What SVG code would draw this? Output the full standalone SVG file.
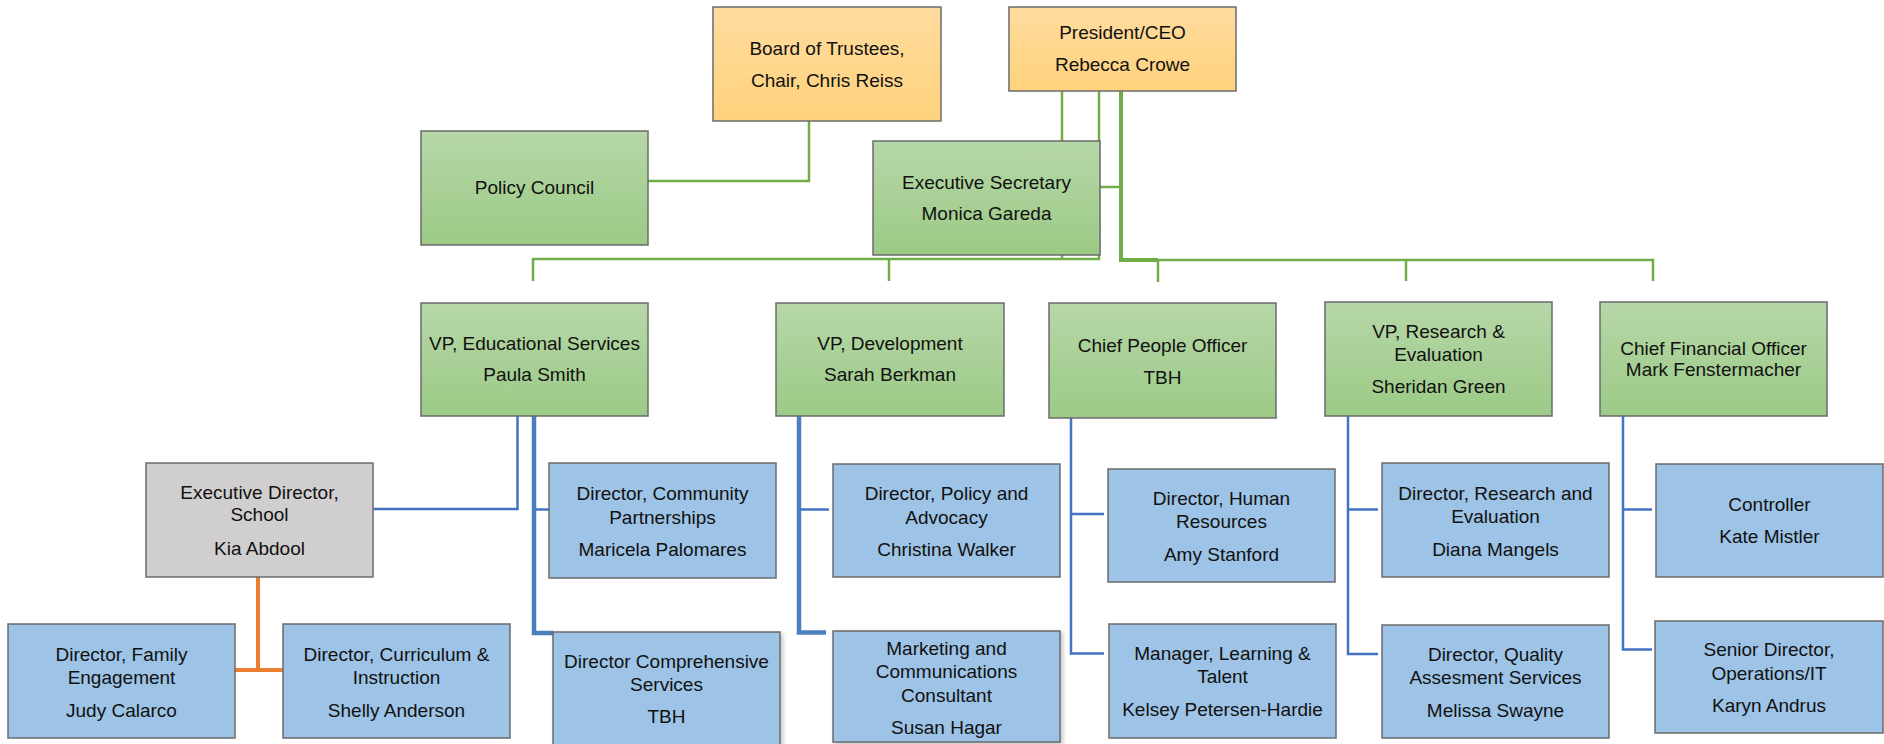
<svg xmlns="http://www.w3.org/2000/svg" width="1884" height="744" viewBox="0 0 1884 744">
  <defs>
    <linearGradient id="gGreen" x1="0" y1="0" x2="0" y2="1">
      <stop offset="0" stop-color="#b6d7a8"/>
      <stop offset="1" stop-color="#9cca86"/>
    </linearGradient>
    <linearGradient id="gGold" x1="0" y1="0" x2="0" y2="1">
      <stop offset="0" stop-color="#ffdb9f"/>
      <stop offset="1" stop-color="#ffd37c"/>
    </linearGradient>
    <filter id="soft" x="-5%" y="-5%" width="115%" height="115%">
      <feDropShadow dx="2" dy="2" stdDeviation="2" flood-color="#000" flood-opacity="0.25"/>
    </filter>
    <style>
      .box { stroke: #6b6b6b; stroke-width: 1.5; }
      .green { fill: url(#gGreen); }
      .gold { fill: url(#gGold); }
      .blue { fill: #9dc3e6; }
      .grey { fill: #d0cece; }
      .lbl { font-family: "Liberation Sans", Arial, sans-serif; font-size: 19px; fill: #111; text-anchor: middle; }
      .gl { fill: none; stroke: #70ad47; stroke-width: 2.5; }
      .glt { fill: none; stroke: #70ad47; stroke-width: 4; }
      .bl { fill: none; stroke: #4472c4; stroke-width: 2.5; }
      .blt { fill: none; stroke: #4a7ebf; stroke-width: 4.5; }
      .ol { fill: none; stroke: #ed7d31; stroke-width: 4; }
    </style>
  </defs>

  <rect width="1884" height="744" fill="#ffffff"/>

  <!-- reporting lines -->
  <g id="connectors">
    <path class="gl" d="M809,121 V181 H648"/>
    <path class="gl" d="M1062,91 V259"/>
    <path class="gl" d="M1099,91 V259 H533 V281"/>
    <path class="gl" d="M889,259 V281"/>
    <path class="glt" d="M1121,91 V260 H1158"/>
    <path class="gl" d="M1158,260 H1653 V281"/>
    <path class="gl" d="M1158,260 V282"/>
    <path class="gl" d="M1406,260 V281"/>
    <path class="gl" d="M1100,187 H1121"/>

    <path class="bl" d="M517.5,416 V509 H373"/>
    <path class="blt" d="M534,416 V633 H553"/>
    <path class="bl" d="M534,509.5 H549"/>

    <path class="blt" d="M799,416 V632.5 H826"/>
    <path class="bl" d="M799,509.5 H829"/>

    <path class="bl" d="M1071,418 V653.5 H1104"/>
    <path class="bl" d="M1071,514 H1104"/>

    <path class="bl" d="M1348,416 V654 H1378"/>
    <path class="bl" d="M1348,509.5 H1378"/>

    <path class="bl" d="M1623,416 V649.5 H1652"/>
    <path class="bl" d="M1623,509.5 H1652"/>

    <path class="ol" d="M258,577 V670"/>
    <path class="ol" d="M235,670 H283"/>
  </g>

  <!-- governance and executive office -->
  <g id="board">
    <rect class="box gold" x="713" y="7" width="228" height="114"/>
    <text class="lbl" x="827" y="55">Board of Trustees,</text>
    <text class="lbl" x="827" y="87">Chair, Chris Reiss</text>
  </g>
  <g id="president">
    <rect class="box gold" x="1009" y="7" width="227" height="84"/>
    <text class="lbl" x="1122.5" y="39">President/CEO</text>
    <text class="lbl" x="1122.5" y="71">Rebecca Crowe</text>
  </g>
  <g id="policy-council">
    <rect class="box green" x="421" y="131" width="227" height="114"/>
    <text class="lbl" x="534.5" y="194">Policy Council</text>
  </g>
  <g id="executive-secretary">
    <rect class="box green" x="873" y="141" width="227" height="114"/>
    <text class="lbl" x="986.5" y="188.5">Executive Secretary</text>
    <text class="lbl" x="986.5" y="220">Monica Gareda</text>
  </g>

  <!-- vice presidents and chiefs -->
  <g id="vp-educational-services">
    <rect class="box green" x="421" y="303" width="227" height="113"/>
    <text class="lbl" x="534.5" y="350">VP, Educational Services</text>
    <text class="lbl" x="534.5" y="381">Paula Smith</text>
  </g>
  <g id="vp-development">
    <rect class="box green" x="776" y="303" width="228" height="113"/>
    <text class="lbl" x="890" y="350">VP, Development</text>
    <text class="lbl" x="890" y="381">Sarah Berkman</text>
  </g>
  <g id="chief-people-officer">
    <rect class="box green" x="1049" y="303" width="227" height="115"/>
    <text class="lbl" x="1162.5" y="352">Chief People Officer</text>
    <text class="lbl" x="1162.5" y="383.5">TBH</text>
  </g>
  <g id="vp-research">
    <rect class="box green" x="1325" y="302" width="227" height="114"/>
    <text class="lbl" x="1438.5" y="337.5">VP, Research &amp;</text>
    <text class="lbl" x="1438.5" y="361">Evaluation</text>
    <text class="lbl" x="1438.5" y="393">Sheridan Green</text>
  </g>
  <g id="cfo">
    <rect class="box green" x="1600" y="302" width="227" height="114"/>
    <text class="lbl" x="1713.5" y="354.5">Chief Financial Officer</text>
    <text class="lbl" x="1713.5" y="376">Mark Fenstermacher</text>
  </g>

  <!-- school -->
  <g id="executive-director-school">
    <rect class="box grey" x="146" y="463" width="227" height="114"/>
    <text class="lbl" x="259.5" y="499">Executive Director,</text>
    <text class="lbl" x="259.5" y="521">School</text>
    <text class="lbl" x="259.5" y="554.5">Kia Abdool</text>
  </g>
  <g id="director-family-engagement">
    <rect class="box blue" x="8" y="624" width="227" height="114"/>
    <text class="lbl" x="121.5" y="660.5">Director, Family</text>
    <text class="lbl" x="121.5" y="684">Engagement</text>
    <text class="lbl" x="121.5" y="716.5">Judy Calarco</text>
  </g>
  <g id="director-curriculum">
    <rect class="box blue" x="283" y="624" width="227" height="114"/>
    <text class="lbl" x="396.5" y="660.5">Director, Curriculum &amp;</text>
    <text class="lbl" x="396.5" y="684">Instruction</text>
    <text class="lbl" x="396.5" y="716.5">Shelly Anderson</text>
  </g>

  <!-- educational services and development -->
  <g id="director-community-partnerships">
    <rect class="box blue" x="549" y="463" width="227" height="115"/>
    <text class="lbl" x="662.5" y="500">Director, Community</text>
    <text class="lbl" x="662.5" y="524">Partnerships</text>
    <text class="lbl" x="662.5" y="555.5">Maricela Palomares</text>
  </g>
  <g id="director-comprehensive-services">
    <rect class="box blue" x="553" y="632" width="227" height="120" filter="url(#soft)"/>
    <text class="lbl" x="666.5" y="668">Director Comprehensive</text>
    <text class="lbl" x="666.5" y="690.5">Services</text>
    <text class="lbl" x="666.5" y="723">TBH</text>
  </g>
  <g id="director-policy-advocacy">
    <rect class="box blue" x="833" y="464" width="227" height="113"/>
    <text class="lbl" x="946.5" y="500">Director, Policy and</text>
    <text class="lbl" x="946.5" y="524">Advocacy</text>
    <text class="lbl" x="946.5" y="555.5">Christina Walker</text>
  </g>
  <g id="marketing-communications">
    <rect class="box blue" x="833" y="631" width="227" height="111" filter="url(#soft)"/>
    <text class="lbl" x="946.5" y="655">Marketing and</text>
    <text class="lbl" x="946.5" y="678">Communications</text>
    <text class="lbl" x="946.5" y="701.5">Consultant</text>
    <text class="lbl" x="946.5" y="734">Susan Hagar</text>
  </g>

  <!-- people -->
  <g id="director-human-resources">
    <rect class="box blue" x="1108" y="469" width="227" height="113"/>
    <text class="lbl" x="1221.5" y="505">Director, Human</text>
    <text class="lbl" x="1221.5" y="528">Resources</text>
    <text class="lbl" x="1221.5" y="560.5">Amy Stanford</text>
  </g>
  <g id="manager-learning-talent">
    <rect class="box blue" x="1109" y="624" width="227" height="114"/>
    <text class="lbl" x="1222.5" y="660">Manager, Learning &amp;</text>
    <text class="lbl" x="1222.5" y="682.5">Talent</text>
    <text class="lbl" x="1222.5" y="715.5">Kelsey Petersen-Hardie</text>
  </g>

  <!-- research -->
  <g id="director-research-evaluation">
    <rect class="box blue" x="1382" y="463" width="227" height="114"/>
    <text class="lbl" x="1495.5" y="500">Director, Research and</text>
    <text class="lbl" x="1495.5" y="523">Evaluation</text>
    <text class="lbl" x="1495.5" y="555.5">Diana Mangels</text>
  </g>
  <g id="director-quality-assessment">
    <rect class="box blue" x="1382" y="625" width="227" height="113"/>
    <text class="lbl" x="1495.5" y="661">Director, Quality</text>
    <text class="lbl" x="1495.5" y="684">Assesment Services</text>
    <text class="lbl" x="1495.5" y="716.5">Melissa Swayne</text>
  </g>

  <!-- finance -->
  <g id="controller">
    <rect class="box blue" x="1656" y="464" width="227" height="113"/>
    <text class="lbl" x="1769.5" y="510.5">Controller</text>
    <text class="lbl" x="1769.5" y="543">Kate Mistler</text>
  </g>
  <g id="senior-director-operations">
    <rect class="box blue" x="1655" y="621" width="228" height="112"/>
    <text class="lbl" x="1769" y="655.5">Senior Director,</text>
    <text class="lbl" x="1769" y="679.5">Operations/IT</text>
    <text class="lbl" x="1769" y="711.5">Karyn Andrus</text>
  </g>
</svg>
